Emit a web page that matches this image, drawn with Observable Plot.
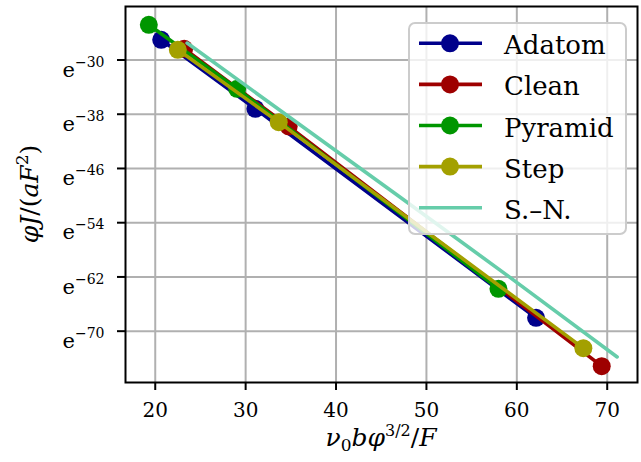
<!DOCTYPE html>
<html>
<head>
<meta charset="utf-8">
<script src="https://cdn.jsdelivr.net/npm/d3@7"></script>
<script src="https://cdn.jsdelivr.net/npm/@observablehq/plot@0.6"></script>
<style>
  html, body { margin: 0; padding: 0; background: #fff; }
  svg { display: block; }
</style>
</head>
<body>
<script>
// ---- data ----
const seriesNames = ["Adatom", "Clean", "Pyramid", "Step"];
const seriesColors = ["#00008b", "#9e0000", "#009600", "#a3a000"];
const adatomX = [20.66, 31.08, 62.13];
const adatomLnY = [-27.02, -37.2, -68.03];
const cleanX = [23.2, 34.76, 69.39];
const cleanLnY = [-28.35, -39.8, -75.16];
const pyramidX = [19.29, 29.06, 57.97];
const pyramidLnY = [-24.81, -34.25, -63.75];
const stepX = [22.5, 33.66, 67.36];
const stepLnY = [-28.5, -39.17, -72.5];
const snName = "S.–N.";
const snColor = "#66cdaa";
const snX = [23.53, 47.1, 59.2, 71.1];
const snLnY = [-27.5, -50.24, -62.03, -73.8];
const xTicks = [20, 30, 40, 50, 60, 70];
const yTickExps = [-30, -38, -46, -54, -62, -70];

const seriesX = [adatomX, cleanX, pyramidX, stepX];
const seriesLnY = [adatomLnY, cleanLnY, pyramidLnY, stepLnY];
const rows = (xs, lys, name) => xs.map((x, i) => ({series: name, x, y: Math.exp(lys[i])}));

const W = 641, H = 462;
const mL = 125, mR = 4, mT = 6, mB = 80;
const FONT = '"DejaVu Serif", serif';

const marks = [
  Plot.gridX(xTicks, {stroke: "#b0b0b0", strokeOpacity: 1, strokeWidth: 2}),
  Plot.gridY(yTickExps.map(Math.exp), {stroke: "#b0b0b0", strokeOpacity: 1, strokeWidth: 2})
];
seriesNames.forEach((name, k) => {
  const d = rows(seriesX[k], seriesLnY[k], name);
  marks.push(Plot.line(d, {x: "x", y: "y", stroke: seriesColors[k], strokeWidth: 3.6}));
  marks.push(Plot.dot(d, {x: "x", y: "y", r: 9, fill: seriesColors[k], stroke: "none"}));
});
marks.push(Plot.line(rows(snX, snLnY, snName), {x: "x", y: "y", stroke: snColor, strokeWidth: 3.6}));
marks.push(Plot.frame({stroke: "black", strokeWidth: 2}));
marks.push(Plot.axisX({ticks: xTicks, tickSize: 8, tickPadding: 12, fontSize: 20, strokeWidth: 2, label: null, tickFormat: d => String(d)}));
marks.push(Plot.axisY({ticks: yTickExps.map(Math.exp), tickSize: 8, tickPadding: 13, fontSize: 21, strokeWidth: 2, label: null,
  tickFormat: d => String(Math.round(Math.log(d)))}));

const svg = Plot.plot({
  width: W, height: H,
  marginLeft: mL, marginRight: mR, marginTop: mT, marginBottom: mB,
  style: {fontFamily: FONT, background: "#fff", color: "black"},
  x: {domain: [16.71, 73.35]},
  y: {type: "log", base: Math.E, domain: [Math.exp(-77.57), Math.exp(-22.11)]},
  marks
});
document.body.appendChild(svg);

const s = d3.select(svg);
// y tick labels as e^{n}
s.selectAll('g[aria-label="y-axis tick label"] text').each(function() {
  const v = this.textContent.replace("-", "−");
  const t = d3.select(this);
  t.text(null).attr("dy", 10);
  t.append("tspan").text("e");
  t.append("tspan").attr("dy", -10).attr("font-size", 14).text(v);
});

// axis labels
const cx = mL + (W - mL - mR) / 2;
const xl = s.append("text").attr("x", cx).attr("y", 446).attr("text-anchor", "middle")
  .style("font-family", FONT).attr("font-size", 25).attr("fill", "black");
xl.append("tspan").attr("font-style", "italic").text("ν");
xl.append("tspan").attr("font-size", 17).attr("dy", 5).text("0");
xl.append("tspan").attr("font-style", "italic").attr("dy", -5).text("bφ");
xl.append("tspan").attr("font-size", 16).attr("dy", -10).text("3/2");
xl.append("tspan").attr("dy", 10).text("/");
xl.append("tspan").attr("font-style", "italic").text("F");

const cy = mT + (H - mT - mB) / 2;
const yl = s.append("text").attr("transform", `translate(38,${cy}) rotate(-90)`).attr("text-anchor", "middle")
  .style("font-family", FONT).attr("font-size", 25).attr("fill", "black");
yl.append("tspan").attr("font-style", "italic").text("φJ");
yl.append("tspan").text("/(");
yl.append("tspan").attr("font-style", "italic").text("aF");
yl.append("tspan").attr("font-size", 17).attr("dy", -10).text("2");
yl.append("tspan").attr("dy", 10).text(")");

// legend
const lg = s.append("g").style("font-family", FONT).attr("font-size", 26).attr("text-anchor", "start");
lg.append("rect").attr("x", 409).attr("y", 23).attr("width", 217).attr("height", 211).attr("rx", 6)
  .attr("fill", "white").attr("fill-opacity", 0.8).attr("stroke", "#cccccc").attr("stroke-width", 2);
const legendItems = seriesNames.map((n, k) => ({name: n, color: seriesColors[k], dot: true}))
  .concat([{name: snName, color: snColor, dot: false}]);
legendItems.forEach((it, i) => {
  const y = 43.3 + i * 41.1;
  lg.append("line").attr("x1", 419).attr("x2", 482).attr("y1", y).attr("y2", y)
    .attr("stroke", it.color).attr("stroke-width", 3.6);
  if (it.dot) lg.append("circle").attr("cx", 450).attr("cy", y).attr("r", 9).attr("fill", it.color);
  lg.append("text").attr("x", 504).attr("y", y + 11).attr("text-anchor", "start").attr("fill", "black").text(it.name);
});
</script>
</body>
</html>
